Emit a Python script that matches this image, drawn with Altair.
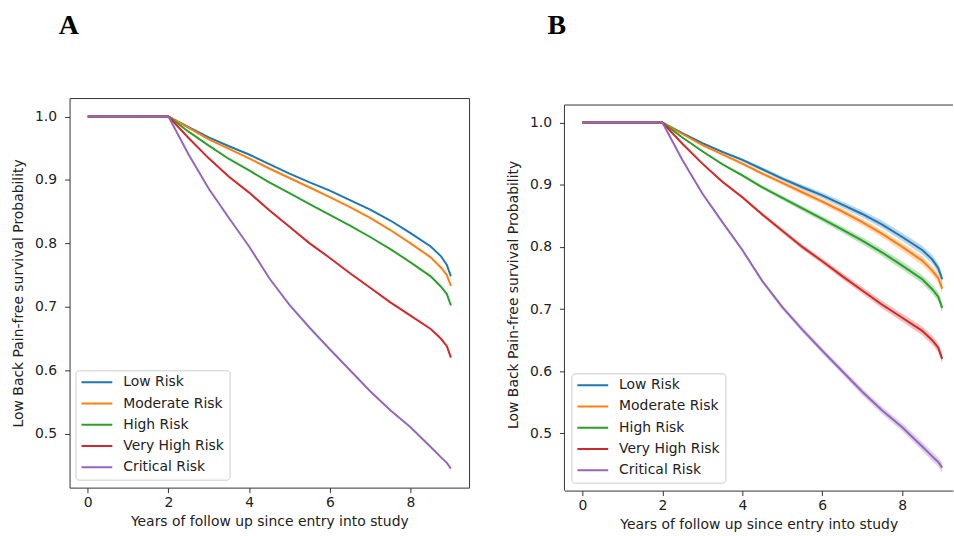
import altair as alt
import pandas as pd

years = [0, 2, 2.5, 3, 3.5, 4, 4.5, 5, 5.5, 6, 6.5, 7, 7.5, 8, 8.5, 8.75, 8.9, 9]
series = ["Low Risk", "Moderate Risk", "High Risk", "Very High Risk", "Critical Risk"]
colors = ["#1f77b4", "#ff7f0e", "#2ca02c", "#d62728", "#9467bd"]

low_risk = [1.0, 1.0, 0.983, 0.967, 0.953, 0.940, 0.925, 0.910, 0.896, 0.883, 0.868, 0.853, 0.836, 0.816, 0.795, 0.780, 0.766, 0.748]
moderate_risk = [1.0, 1.0, 0.982, 0.964, 0.949, 0.934, 0.918, 0.903, 0.888, 0.873, 0.857, 0.840, 0.821, 0.800, 0.778, 0.762, 0.750, 0.733]
high_risk = [1.0, 1.0, 0.976, 0.954, 0.933, 0.915, 0.896, 0.879, 0.862, 0.845, 0.828, 0.810, 0.791, 0.770, 0.748, 0.732, 0.720, 0.702]
very_high_risk = [1.0, 1.0, 0.966, 0.934, 0.905, 0.880, 0.852, 0.826, 0.800, 0.777, 0.753, 0.730, 0.707, 0.686, 0.665, 0.650, 0.638, 0.620]
critical_risk = [1.0, 1.0, 0.940, 0.886, 0.840, 0.795, 0.745, 0.703, 0.667, 0.633, 0.600, 0.567, 0.537, 0.510, 0.479, 0.463, 0.454, 0.445]

# half-width of the confidence band drawn in panel B
ci_half = [0.0, 0.0, 0.001, 0.0015, 0.002, 0.0025, 0.003, 0.0035, 0.004, 0.0045, 0.005, 0.0055, 0.006, 0.0065, 0.007, 0.0072, 0.0075, 0.008]

x_ticks = [0, 2, 4, 6, 8]
y_ticks = [0.5, 0.6, 0.7, 0.8, 0.9, 1.0]

values = [low_risk, moderate_risk, high_risk, very_high_risk, critical_risk]
rows = []
for name, vals in zip(series, values):
    for yr, v, c in zip(years, vals, ci_half):
        rows.append({"year": yr, "prob": v, "risk": name, "lo": v - c, "hi": v + c})
df = pd.DataFrame(rows)

FONT = "DejaVu Sans"
TXT = "#222222"
FRAME = "#333333"


def make_panel(letter, width, height, xdom, ydom, letter_dx, letter_dy, bands,
               legend_x, legend_y, frame_top):
    base = alt.Chart(df)
    x = alt.X("year:Q", scale=alt.Scale(domain=xdom, nice=False, zero=False),
              axis=alt.Axis(values=x_ticks, title="Years of follow up since entry into study",
                            format="d", grid=False, domain=bands, domainColor=FRAME,
                            labelFont=FONT, labelFontSize=14, labelColor=TXT, labelPadding=3,
                            tickColor=FRAME, tickSize=5, titleFont=FONT, titleFontSize=14,
                            titleFontWeight="normal", titleColor=TXT, titlePadding=5))
    y = alt.Y("prob:Q", scale=alt.Scale(domain=ydom, nice=False, zero=False),
              axis=alt.Axis(values=y_ticks, title="Low Back Pain-free survival Probability",
                            format=".1f", grid=False, domain=False,
                            labelFont=FONT, labelFontSize=14, labelColor=TXT, labelPadding=8,
                            tickColor=FRAME, tickSize=5, titleFont=FONT, titleFontSize=14,
                            titleFontWeight="normal", titleColor=TXT, titlePadding=9))
    legend = alt.Legend(title=None, orient="none", legendX=legend_x, legendY=legend_y,
                        symbolType="stroke", symbolSize=961, symbolStrokeWidth=2,
                        symbolOpacity=1, labelFont=FONT, labelFontSize=14, labelColor=TXT,
                        labelOffset=10, clipHeight=14, rowPadding=7.4, padding=5,
                        fillColor="white", strokeColor="#cccccc", cornerRadius=3,
                        labelLimit=300)
    color = alt.Color("risk:N", scale=alt.Scale(domain=series, range=colors), legend=legend,
                      sort=series)
    layers = [base.mark_line(strokeWidth=2, interpolate="linear").encode(x=x, y=y, color=color)]
    if bands:
        layers.append(base.mark_area(opacity=0.3, interpolate="linear").encode(
            x=x, y="lo:Q", y2="hi:Q", color=color))
    label = alt.Chart(pd.DataFrame({"label": [letter]})).mark_text(
        font="Liberation Serif", fontWeight="bold", fontSize=28, align="left",
        baseline="alphabetic", color="black").encode(
        text="label:N", x=alt.value(letter_dx), y=alt.value(letter_dy))
    layers.append(label)
    if bands:
        frame_df = pd.DataFrame({"k": [0]})
        top = alt.Chart(frame_df).mark_rule(color=FRAME, strokeWidth=1).encode(
            x=alt.value(0), x2=alt.value(width), y=alt.value(frame_top))
        left = alt.Chart(frame_df).mark_rule(color=FRAME, strokeWidth=1).encode(
            x=alt.value(0), y=alt.value(frame_top), y2=alt.value(height))
        layers += [top, left]
        view = alt.ViewBackground(stroke="transparent")
    else:
        view = alt.ViewBackground(stroke=FRAME, strokeWidth=1)
    return alt.layer(*layers).properties(width=width, height=height, view=view)


panel_a = make_panel("A", 402, 392, [-0.45, 9.45], [0.415, 1.029], -11, -64, False,
                     6, 274, 0)
panel_b = make_panel("B", 391, 395, [-0.45, 9.27], [0.408, 1.0395], -17, -64, True,
                     7, 277, 7)

chart = alt.hconcat(panel_a, panel_b, spacing=36).resolve_scale(
    color="independent"
).properties(
    padding={"left": 11, "top": 10, "right": 0, "bottom": 0},
    background="white",
)

chart.save("out.html", embed_options={"renderer": "svg", "actions": False})
